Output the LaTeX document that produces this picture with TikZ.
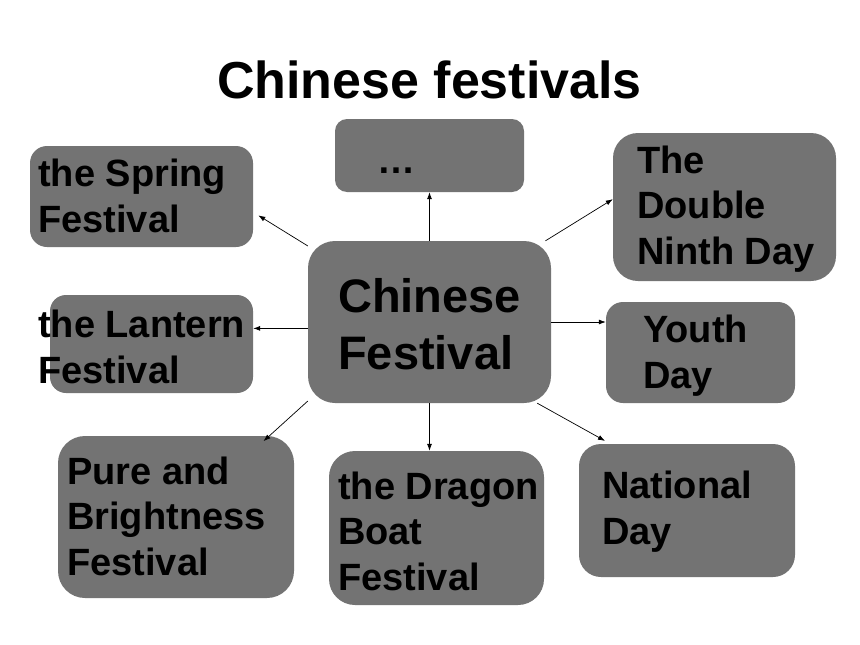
\documentclass[tikz,border=0pt]{standalone}
\usepackage{fontspec}
\setmainfont{Liberation Sans}
\usetikzlibrary{arrows.meta}
\definecolor{boxgray}{RGB}{115,115,115}
\tikzset{
  box/.style={fill=boxgray, inner sep=0pt},
  lbl/.style={anchor=base west, align=left, inner sep=0pt, font=\bfseries\fontsize{38}{45.5}\selectfont},
  arr/.style={-{Latex[length=7pt,width=5pt]}, line width=0.7pt},
}
\begin{document}
\begin{tikzpicture}[x=1pt,y=-1pt]
  \useasboundingbox (0,0) rectangle (860,645);
  % Titulo
  \node[anchor=base, inner sep=0pt, font=\bfseries\fontsize{52}{60}\selectfont] (title) at (429.5,98) {Chinese festivals};

  % Cajas
  \node[box, minimum width=243pt, minimum height=162pt, rounded corners=27pt] (cf) at (429.5,322) {};
  \node[box, minimum width=189pt, minimum height=73pt, rounded corners=12pt] (dots) at (429.5,155.5) {};
  \node[box, minimum width=223pt, minimum height=101pt, rounded corners=17pt] (spring) at (141.5,196.5) {};
  \node[box, minimum width=223pt, minimum height=148pt, rounded corners=25pt] (ninth) at (724.5,207) {};
  \node[box, minimum width=203pt, minimum height=98pt, rounded corners=16pt] (lantern) at (151.5,344) {};
  \node[box, minimum width=189pt, minimum height=101pt, rounded corners=17pt] (youth) at (700.5,352.5) {};
  \node[box, minimum width=236pt, minimum height=162pt, rounded corners=27pt] (pure) at (176,517) {};
  \node[box, minimum width=215pt, minimum height=154pt, rounded corners=26pt] (dragon) at (436.5,528) {};
  \node[box, minimum width=216pt, minimum height=133pt, rounded corners=22pt] (national) at (687,510.5) {};

  % Textos (la base es la de la ultima linea)
  \node[lbl, font=\bfseries\fontsize{47}{57}\selectfont] (tcf) at (338,369) {Chinese\\Festival};
  \node[lbl] (tdots) at (377,173) {…};
  \node[lbl] (tspring) at (38,232) {the Spring\\Festival};
  \node[lbl] (tninth) at (637,264) {The\\Double\\Ninth Day};
  \node[lbl] (tlantern) at (38,383) {the Lantern\\Festival};
  \node[lbl] (tyouth) at (643,388) {Youth\\Day};
  \node[lbl] (tpure) at (67,575) {Pure and\\Brightness\\Festival};
  \node[lbl] (tdragon) at (338,590) {the Dragon\\Boat\\Festival};
  \node[lbl] (tnational) at (602,544) {National\\Day};

  % Flechas
  \draw[arr] (cf.north) -- (dots.south);
  \draw[arr, shorten >=6pt] (cf.148) -- (spring.-8);
  \draw[arr] (cf.35) -- (ninth.176);
  \draw[arr] (cf.183) -- (cf.183 -| lantern.east);
  \draw[arr] (cf.east) -- (cf.east -| youth.west);
  \draw[arr, shorten >=-8pt] (cf.213) -- (pure.41);
  \draw[arr] (cf.south) -- (cf.south |- dragon.north);
  \draw[arr, shorten >=6pt] (cf.-37) -- (national.139);
\end{tikzpicture}
\end{document}
